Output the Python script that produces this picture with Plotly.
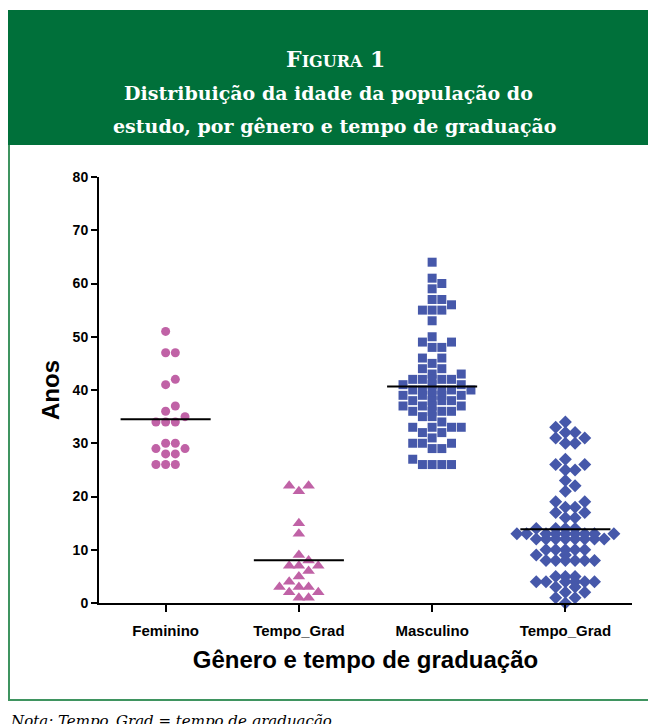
import plotly.graph_objects as go
import numpy as np

# ---------------- data ----------------
categories = ["Feminino", "Tempo_Grad", "Masculino", "Tempo_Grad"]

fem_age = [51, 47, 47, 42, 41, 37, 36, 35, 34, 34, 34, 30, 30, 29, 29, 28, 28, 26, 26, 26]
fem_grad = [22, 22, 21, 15, 13, 9, 8, 7, 7, 7, 6, 5, 4, 3, 3, 3, 2, 2, 1, 1]
masc_age = [64, 61, 60, 59, 57, 57, 56, 55, 55, 55, 53,
            50, 49, 49, 48, 48, 46, 46, 45, 44, 44,
            43, 43, 42, 42, 42, 42, 42, 41, 41, 41,
            40, 40, 40, 40, 40, 40, 39, 39, 39, 39, 39,
            38, 38, 38, 38, 37, 37, 37, 37, 36, 36, 36, 36,
            35, 35, 34, 33, 33, 33, 33, 32, 32, 31, 30, 30, 30,
            29, 29, 27, 26, 26, 26, 26]
masc_grad = [34, 33, 32, 32, 31, 31, 30, 30, 27, 26, 26, 25, 25, 23, 22, 21,
             19, 19, 18, 18, 17, 17, 16, 16,
             14, 14, 14, 14, 13, 13, 13, 13, 13, 13, 13, 13, 13,
             12, 12, 12, 12, 12, 12, 12, 12,
             10, 10, 10, 10, 10, 9, 9, 8, 8, 8, 8, 8, 8,
             5, 5, 5, 4, 4, 4, 4, 4, 4, 3, 3, 2, 2, 1, 1, 0]

series = [fem_age, fem_grad, masc_age, masc_grad]
symbols = ["circle", "triangle-up", "square", "diamond"]
colors = ["#C062A6", "#C062A6", "#4658AA", "#4658AA"]
sizes = [9, 11, 9, 10]

# ---------------- geometry (page offset of 8px body margin) ----------------
OFF = 8
W, H = 656 - OFF, 724 - OFF
L, R, T, B = 99 - OFF, 24, 177 - OFF, 121
pw, ph = W - L - R, H - T - B
XR = [-0.5, 3.5]
YR = [0, 80]
xpx = pw / (XR[1] - XR[0])
ypx = ph / (YR[1] - YR[0])


def swarm(vals, col_w=9.7, near=7.0, penalty=2.6):
    """Greedy beeswarm: same value may not share a column; neighbours pay a penalty."""
    order = sorted(range(len(vals)), key=lambda i: vals[i])
    placed = []
    offs = [0.0] * len(vals)
    cands = [0]
    for k in range(1, 25):
        cands += [k, -k]
    for i in order:
        y = vals[i] * ypx
        best, bc = None, 0
        for c in cands:
            cost = abs(c)
            for pc, yy in placed:
                if pc == c:
                    d = abs(yy - y)
                    if d < 2:
                        cost += 1e6
                    elif d < near:
                        cost += penalty
            if best is None or cost < best - 1e-9:
                best, bc = cost, c
        placed.append((bc, y))
        offs[i] = bc * col_w / xpx
    return offs


def pxx(x):
    return (x - OFF - L) / pw


def pxy(y):
    return (H - B - (y - OFF)) / ph


fig = go.Figure()
for i, vals in enumerate(series):
    offs = swarm(vals)
    fig.add_trace(go.Scatter(
        x=[i + o for o in offs], y=vals, mode="markers",
        marker=dict(symbol=symbols[i], color=colors[i], size=sizes[i], line=dict(width=0)),
        cliponaxis=False, showlegend=False, hoverinfo="y"))
    m = float(np.mean(vals))
    fig.add_shape(type="line", xref="x", yref="y", x0=i - 0.338, x1=i + 0.338, y0=m, y1=m,
                  line=dict(color="black", width=2), layer="above")

green = "#00703A"
border = "#3F9460"
# header band
fig.add_shape(type="rect", xref="paper", yref="paper", x0=pxx(7), x1=pxx(670), y0=pxy(145), y1=pxy(10),
              fillcolor=green, line=dict(width=0), layer="below")
# frame lines
fig.add_shape(type="line", xref="paper", yref="paper", x0=pxx(9), x1=pxx(9), y0=pxy(700), y1=pxy(145),
              line=dict(color=border, width=2), layer="below")
fig.add_shape(type="line", xref="paper", yref="paper", x0=pxx(7), x1=pxx(670), y0=pxy(700), y1=pxy(700),
              line=dict(color=border, width=2), layer="below")

serif = "DejaVu Serif, Liberation Serif, serif"
fig.add_annotation(xref="paper", yref="paper", x=pxx(335), y=pxy(44), showarrow=False,
                   text="<b>F<span style='font-size:16px'>IGURA</span> 1</b>",
                   font=dict(family=serif, size=22, color="white"))
fig.add_annotation(xref="paper", yref="paper", x=pxx(328), y=pxy(80), showarrow=False,
                   text="<b>Distribuição da idade da população do</b>",
                   font=dict(family=serif, size=19, color="white"))
fig.add_annotation(xref="paper", yref="paper", x=pxx(335), y=pxy(113), showarrow=False,
                   text="<b>estudo, por gênero e tempo de graduação</b>",
                   font=dict(family=serif, size=19, color="white"))
fig.add_annotation(xref="paper", yref="paper", x=pxx(8), y=pxy(710), xanchor="left", yanchor="top",
                   showarrow=False, text="<i>Nota: Tempo_Grad = tempo de graduação</i>",
                   font=dict(family=serif, size=15, color="black"))

sans = "Liberation Sans, Arial, sans-serif"
fig.update_layout(
    width=W, height=H, margin=dict(l=L, r=R, t=T, b=B),
    paper_bgcolor="white", plot_bgcolor="white",
    font=dict(family=sans, color="black"),
    xaxis=dict(range=XR, tickvals=[0, 1, 2, 3], ticktext=["<b>%s</b>" % c for c in categories],
               showline=True, linecolor="black", linewidth=2, ticks="outside", ticklen=7,
               tickwidth=2, tickcolor="black", showgrid=False, zeroline=False,
               tickfont=dict(size=15, family=sans), ticklabelstandoff=6,
               title=dict(text="<b>Gênero e tempo de graduação</b>", font=dict(size=24, family=sans),
                          standoff=13)),
    yaxis=dict(range=YR, tickvals=list(range(0, 81, 10)),
               ticktext=["<b>%d</b>" % v for v in range(0, 81, 10)],
               showline=True, linecolor="black", linewidth=2, ticks="outside", ticklen=6,
               tickwidth=2, tickcolor="black", showgrid=False, zeroline=False,
               tickfont=dict(size=14, family=sans),
               title=dict(text="<b>Anos</b>", font=dict(size=24, family=sans), standoff=6)),
)

fig.write_html("out.html")
